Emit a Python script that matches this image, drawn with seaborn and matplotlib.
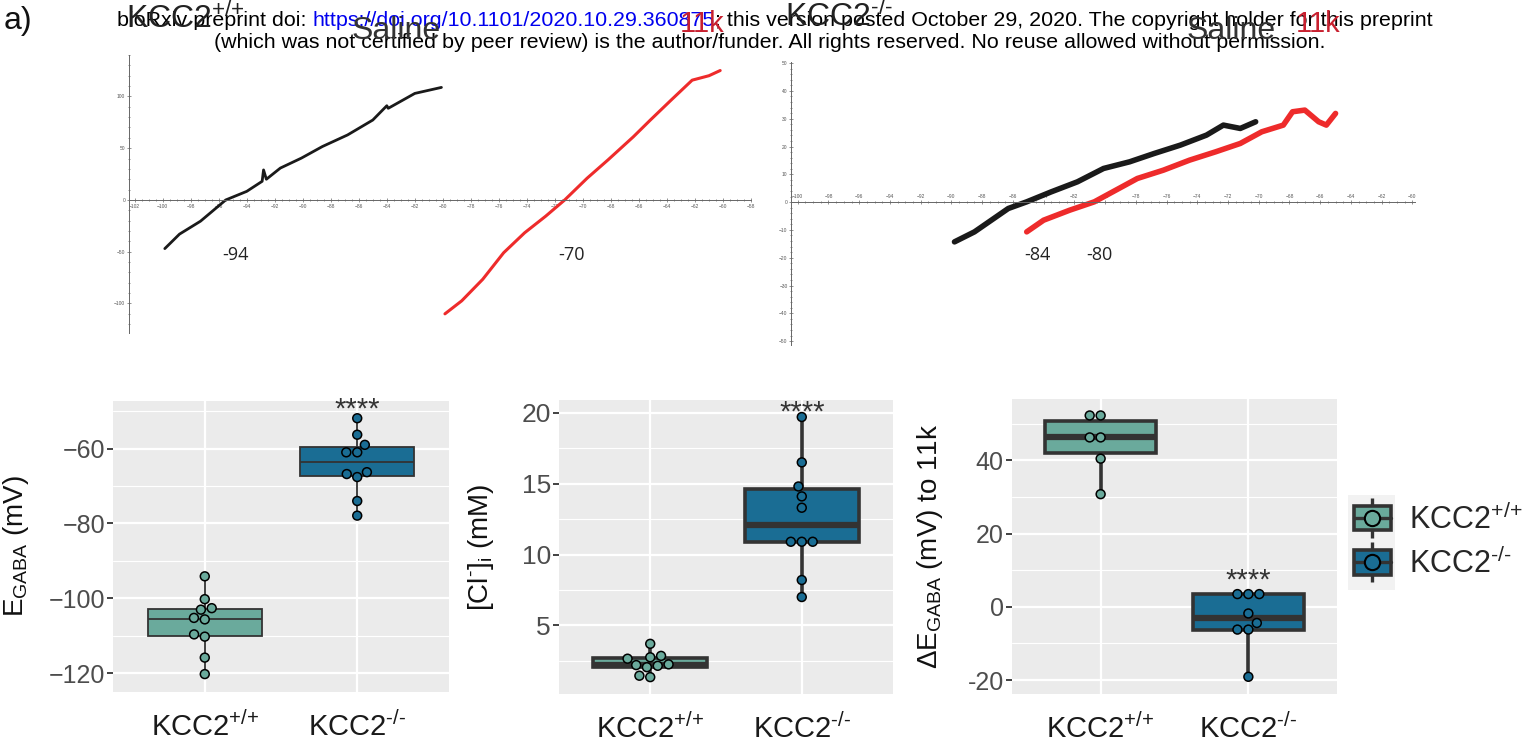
import numpy as np
import pandas as pd
import matplotlib
matplotlib.use("Agg")
import matplotlib.pyplot as plt
import seaborn as sns
from matplotlib.patches import Patch, Rectangle
from matplotlib.lines import Line2D
from matplotlib.legend_handler import HandlerTuple
from matplotlib.ticker import MultipleLocator, FixedLocator

# ---------------- data ----------------
genotypes = ["KCC2+/+", "KCC2-/-"]
genotype_labels = ["KCC2$^{+/{+}}$", "KCC2$^{\u2010/\u2010}$"]
palette = ["#6AAA9C", "#1A6D94"]

# I-V ramps, KCC2+/+ (holding potential mV, current pA)
wt_saline_mv = [-99.85, -98.8, -97.3, -95.5, -94.0, -92.9, -92.8, -92.6, -91.6,
                -90.1, -88.6, -86.8, -85.0, -84.0, -83.9, -82.0, -80.1]
wt_saline_pa = [-47, -33, -20.5, 0, 8.3, 18, 29, 20, 30.8, 40.4, 51.6, 62.8,
                77.2, 91, 88.5, 102.9, 108.7]
wt_11k_mv = [-79.85, -78.65, -77.15, -75.66, -74.16, -72.66, -71.3, -69.7,
             -68.2, -66.4, -65.2, -63.7, -62.2, -61.0, -60.2]
wt_11k_pa = [-110, -97.4, -76.6, -51, -31.7, -15.7, 0, 21, 38.8, 61, 77,
             96.5, 115.7, 120, 125]

# I-V ramps, KCC2-/-
ko_saline_mv = [-89.8, -88.5, -87.4, -86.3, -85.1, -83.5, -81.8, -80.1, -78.4,
                -76.8, -75.1, -73.4, -72.3, -71.2, -70.2]
ko_saline_pa = [-14.3, -10.7, -6.5, -2.3, 0.1, 3.7, 7.3, 12.1, 14.5, 17.5,
                20.5, 24.1, 27.7, 26.5, 28.9]
ko_11k_mv = [-85.1, -84.0, -82.3, -80.7, -79.3, -77.9, -76.2, -74.5, -72.8,
             -71.2, -69.8, -68.4, -67.8, -67.0, -66.1, -65.6, -65.0]
ko_11k_pa = [-10.7, -6.5, -2.9, 0.1, 4.3, 8.5, 11.5, 15.1, 18.1, 21.1, 25.3,
             27.7, 32.5, 33.1, 28.9, 27.7, 31.9]

# reversal potentials annotated under the ramps
rev_wt = ["-94", "-70"]
rev_ko = ["-84", "-80"]

# E_GABA (mV)
egaba_wt = [-94.1, -100.2, -102.6, -103.0, -105.2, -105.6, -109.6, -110.2, -115.8, -120.2]
egaba_ko = [-51.9, -56.3, -59.0, -61.0, -61.0, -66.3, -66.8, -67.6, -74.0, -77.9]
# [Cl-]i (mM)
cl_wt = [3.7, 2.85, 2.75, 2.65, 2.25, 2.2, 2.15, 2.05, 1.45, 1.35]
cl_ko = [19.7, 16.5, 14.8, 14.1, 13.3, 10.9, 10.9, 10.9, 8.2, 7.0]
# shift of E_GABA to 11k (mV)
de_wt = [52.3, 52.3, 46.3, 46.3, 40.5, 30.8]
de_ko = [3.5, 3.5, 3.5, -1.8, -4.4, -6.2, -6.2, -19.1]

EDGE = "#333333"
W, H = 1530, 747

sns.set_theme(style="darkgrid", rc={
    "axes.facecolor": "#EBEBEB",
    "grid.color": "white",
})
plt.rcParams["font.family"] = ["Liberation Sans", "DejaVu Sans"]
plt.rcParams["mathtext.default"] = "regular"

fig = plt.figure(figsize=(W / 100, H / 100), dpi=100)
fig.patch.set_facecolor("white")


def px_axes(left, top, right, bottom):
    return fig.add_axes([left / W, 1 - bottom / H, (right - left) / W, (bottom - top) / H])


def style_trace(ax, xlim, ylim, ymajor, yminor, xlabel_pad):
    ax.set_facecolor("white")
    ax.grid(False)
    ax.set_xlim(xlim)
    ax.set_ylim(ylim)
    for s in ["top", "right"]:
        ax.spines[s].set_visible(False)
    ax.spines["bottom"].set_position(("data", 0))
    for s in ["bottom", "left"]:
        ax.spines[s].set_visible(True)
        ax.spines[s].set_color("#666666")
        ax.spines[s].set_linewidth(0.7)
    ax.xaxis.set_major_locator(MultipleLocator(2))
    ax.xaxis.set_minor_locator(MultipleLocator(0.5))
    ax.yaxis.set_major_locator(MultipleLocator(ymajor))
    ax.yaxis.set_minor_locator(MultipleLocator(yminor))
    ax.tick_params(which="both", bottom=True, left=True, direction="inout",
                   color="#666666", width=0.5, labelsize=3.5, labelcolor="#555555")
    ax.tick_params(which="major", length=3)
    ax.tick_params(which="minor", length=1.5)
    ax.tick_params(axis="x", pad=xlabel_pad)
    ax.tick_params(axis="y", pad=1)


# ---------------- top row: I-V ramps ----------------
ax_a = px_axes(128.8, 55, 751, 333)
sns.lineplot(x=wt_saline_mv, y=wt_saline_pa, sort=False, estimator=None,
             color="#1A1A1A", lw=2.0, ax=ax_a)
sns.lineplot(x=wt_11k_mv, y=wt_11k_pa, sort=False, estimator=None,
             color="#EE2B2B", lw=2.2, ax=ax_a)
style_trace(ax_a, (-102.42, -58.0), (-128.5, 140), 50, 10, 1.5)
for xv, lab in zip([-94.8, -70.8], rev_wt):
    ax_a.text(xv, -53, lab, fontsize=13, ha="center", va="center",
              family=["Open Sans", "DejaVu Sans"], color="#222222")

ax_b = px_axes(791, 62, 1415, 345)
sns.lineplot(x=ko_saline_mv, y=ko_saline_pa, sort=False, estimator=None,
             color="#1A1A1A", lw=4, ax=ax_b)
sns.lineplot(x=ko_11k_mv, y=ko_11k_pa, sort=False, estimator=None,
             color="#EE2B2B", lw=4, ax=ax_b)
style_trace(ax_b, (-100.44, -59.83), (-51.4, 50.4), 10, 2, -7)
for xv, lab in zip([-84.4, -80.4], rev_ko):
    ax_b.text(xv, -19.1, lab, fontsize=13, ha="center", va="center",
              family=["Open Sans", "DejaVu Sans"], color="#222222")


# ---------------- bottom row: box + dot plots ----------------
def box_panel(ax, wt, ko, lw, med_lw, ylim, ticks, minor, ticklabels, ylabel,
              star_y, tick_size):
    df = pd.DataFrame({
        "genotype": [genotypes[0]] * len(wt) + [genotypes[1]] * len(ko),
        "value": list(wt) + list(ko),
    })
    sns.boxplot(data=df, x="genotype", y="value", hue="genotype", order=genotypes,
                hue_order=genotypes, palette=palette, saturation=1, width=0.75,
                linewidth=lw, linecolor=EDGE, showfliers=False, legend=False, ax=ax,
                medianprops={"linewidth": med_lw, "color": EDGE},
                capprops={"linewidth": 0})
    sns.swarmplot(data=df, x="genotype", y="value", hue="genotype", order=genotypes,
                  hue_order=genotypes, palette=palette, size=6.4, edgecolor="black",
                  linewidth=1.1, legend=False, ax=ax)
    ax.set_xlim(-0.6, 1.6)
    ax.set_ylim(ylim)
    ax.yaxis.set_major_locator(FixedLocator(ticks))
    ax.yaxis.set_minor_locator(FixedLocator(minor))
    ax.set_yticklabels(ticklabels)
    ax.set_xticks([0, 1])
    ax.set_xticklabels(genotype_labels)
    ax.grid(which="major", color="white", lw=1.6)
    ax.grid(which="minor", color="white", lw=0.8)
    ax.set_axisbelow(True)
    for s in ax.spines.values():
        s.set_visible(False)
    ax.tick_params(axis="y", which="major", left=True, length=4, width=1.3,
                   color=EDGE, labelsize=tick_size, labelcolor="#4D4D4D", pad=2)
    ax.tick_params(axis="y", which="minor", left=False)
    ax.tick_params(axis="x", bottom=False, labelsize=21, labelcolor="#1A1A1A", pad=8)
    ax.set_xlabel("")
    ax.set_ylabel(ylabel, fontsize=20, color="#111111")
    ax.text(1, star_y, "****", ha="center", va="center", fontsize=21,
            color="#333333")


bx1 = px_axes(113.3, 401, 448.7, 691.7)
box_panel(bx1, egaba_wt, egaba_ko, 1.3, 1.3, (-124.9, -47.3),
          [-120, -100, -80, -60], [-110, -90, -70, -50],
          ["\u2212120", "\u2212100", "\u221280", "\u221260"],
          "E$_{GABA}$ (mV)", -49.6, 18)
bx1.yaxis.set_label_coords(-0.245, 0.5)

bx2 = px_axes(559.3, 400, 892.7, 694)
box_panel(bx2, cl_wt, cl_ko, 2.6, 4.5, (0.16, 20.9),
          [5, 10, 15, 20], [2.5, 7.5, 12.5, 17.5],
          ["5", "10", "15", "20"],
          "[Cl$^{\u2010}$]$_{i}$ (mM)", 20.0, 19)
bx2.yaxis.set_label_coords(-0.19, 0.5)

bx3 = px_axes(1012, 399, 1337, 694)
box_panel(bx3, de_wt, de_ko, 2.6, 4.5, (-23.8, 56.8),
          [-20, 0, 20, 40], [-10, 10, 30, 50],
          ["-20", "0", "20", "40"],
          "\u0394E$_{GABA}$ (mV) to 11k", 7.2, 18)
bx3.yaxis.set_label_coords(-0.205, 0.5)


# legend with box-and-dot glyphs on a light key background
def glyph(c):
    whisk = Line2D([], [], color=EDGE, marker="|", markersize=29,
                   markeredgewidth=2.4, linestyle="none")
    box = Patch(facecolor=c, edgecolor=EDGE, linewidth=2.6)
    med = Line2D([], [], color=EDGE, lw=2.4)
    dot = Line2D([], [], marker="o", markersize=11, markerfacecolor=c,
                 markeredgecolor="black", markeredgewidth=1.5, linestyle="none")
    return (whisk, box, med, dot)


fig.patches.append(Rectangle((1348 / W, 1 - 590 / H), 47 / W, 95 / H,
                             transform=fig.transFigure, facecolor="#F2F2F2",
                             edgecolor="none", zorder=0))
leg = fig.legend([glyph(c) for c in palette], genotype_labels,
                 handler_map={tuple: HandlerTuple(ndivide=1, pad=0)},
                 loc="center left", bbox_to_anchor=(1348 / W, 1 - 542 / H),
                 borderaxespad=0, fontsize=22, handlelength=1.2, handleheight=0.85,
                 handletextpad=0.6, labelspacing=0.4, borderpad=0.2,
                 frameon=False)

# ---------------- header texts ----------------
fig.text(4 / W, 1 - 21 / H, "a)", fontsize=23, ha="left", va="center", color="#111111")

hdr_font = ["Liberation Sans Narrow", "Liberation Sans", "DejaVu Sans"]
renderer = fig.canvas.get_renderer()


def segmented(x_px, y_px, parts, size):
    x = x_px / W
    for txt, col in parts:
        t = fig.text(x, 1 - y_px / H, txt, color=col, fontsize=size,
                     family=hdr_font, ha="left", va="center")
        bb = t.get_window_extent(renderer)
        x = bb.x1 / W


segmented(117, 21, [("bioRxiv preprint doi: ", "black"),
                    ("https://doi.org/10.1101/2020.10.29.360875", "#0000EE"),
                    ("; this version posted October 29, 2020. The copyright holder for this preprint", "black")], 15.4)
fig.text(770 / W, 1 - 43 / H,
         "(which was not certified by peer review) is the author/funder. All rights reserved. No reuse allowed without permission.",
         fontsize=15.4, family=hdr_font, ha="center", va="center", color="black")

# panel titles over the ramps
fig.text(126 / W, 1 - 19 / H, "KCC2$^{+/{+}}$", fontsize=23, ha="left", va="center", color="#222222")
fig.text(352 / W, 1 - 31 / H, "Saline", fontsize=23, ha="left", va="center", color="#333333")
fig.text(680 / W, 1 - 24 / H, "11k", fontsize=21, ha="left", va="center", color="#C8202F")
fig.text(785 / W, 1 - 17 / H, "KCC2$^{\u2010/\u2010}$", fontsize=23, ha="left", va="center", color="#222222")
fig.text(1187 / W, 1 - 31 / H, "Saline", fontsize=23, ha="left", va="center", color="#333333")
fig.text(1296 / W, 1 - 24 / H, "11k", fontsize=21, ha="left", va="center", color="#C8202F")

fig.savefig("out.png", dpi=100, facecolor="white")
